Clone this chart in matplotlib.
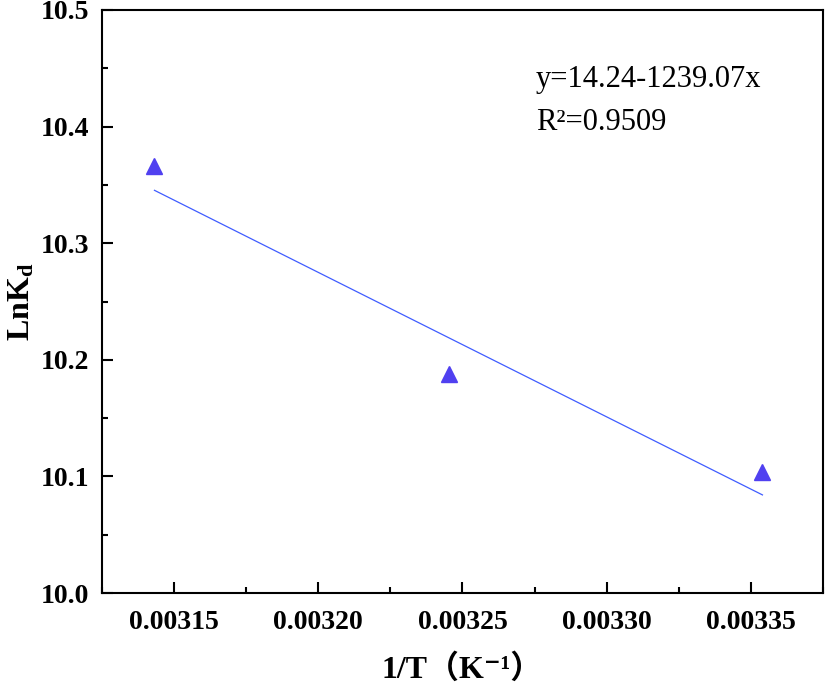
import matplotlib
matplotlib.use('Agg')
import matplotlib.pyplot as plt
from matplotlib.ticker import MultipleLocator
import numpy as np

# data
inv_T = [0.0031432, 0.0032452, 0.0033540]
ln_kd = [10.366, 10.188, 10.104]
intercept = 14.24
slope = -1239.07
fit_text = 'y=14.24-1239.07x'
r2_text = 'R\u00b2=0.9509'

plt.rcParams['font.family'] = ['Liberation Serif', 'Noto Sans CJK SC', 'DejaVu Sans']
plt.rcParams['mathtext.fontset'] = 'custom'
plt.rcParams['mathtext.rm'] = 'Liberation Serif'
plt.rcParams['mathtext.bf'] = 'Liberation Serif:bold'
plt.rcParams['mathtext.it'] = 'Liberation Serif:italic'

fig = plt.figure(figsize=(8.25, 6.88), dpi=100)
ax = fig.add_axes([0.1236, 0.138, 0.874, 0.8475])

xfit = np.array([inv_T[0], inv_T[-1]])
ax.plot(xfit, intercept + slope * xfit, color='#3f5cff', lw=0.9)
ax.plot(inv_T, ln_kd, linestyle='none', marker='^', ms=11, color='#5040f0')

ax.set_xlim(0.003125, 0.003375)
ax.set_ylim(10.0, 10.5)
ax.xaxis.set_major_locator(MultipleLocator(0.00005))
ax.xaxis.set_minor_locator(MultipleLocator(0.000025))
ax.yaxis.set_major_locator(MultipleLocator(0.1))
ax.yaxis.set_minor_locator(MultipleLocator(0.05))
ax.xaxis.set_major_formatter(plt.FuncFormatter(lambda v, p: f'{v:.5f}'))
ax.yaxis.set_major_formatter(plt.FuncFormatter(lambda v, p: f'{v:.1f}'))

for s in ax.spines.values():
    s.set_linewidth(1.5)
ax.tick_params(which='major', direction='in', length=8, width=1.5, labelsize=20, pad=9)
ax.tick_params(axis='x', which='major', pad=12)
ax.tick_params(which='minor', direction='in', length=4, width=1.5)
for lab in ax.get_xticklabels() + ax.get_yticklabels():
    lab.set_fontweight('bold')

ax.set_ylabel(r'$\mathbf{LnK_d}$', fontsize=23, labelpad=3)
ax.set_xlabel('1/T（K\u207b\u00b9）', fontsize=23, fontweight='bold', labelpad=14)

ax.text(0.602, 0.905, fit_text, transform=ax.transAxes, fontsize=22, va='top')
ax.text(0.602, 0.832, r2_text, transform=ax.transAxes, fontsize=22, va='top')

fig.savefig('out.png', dpi=100)
